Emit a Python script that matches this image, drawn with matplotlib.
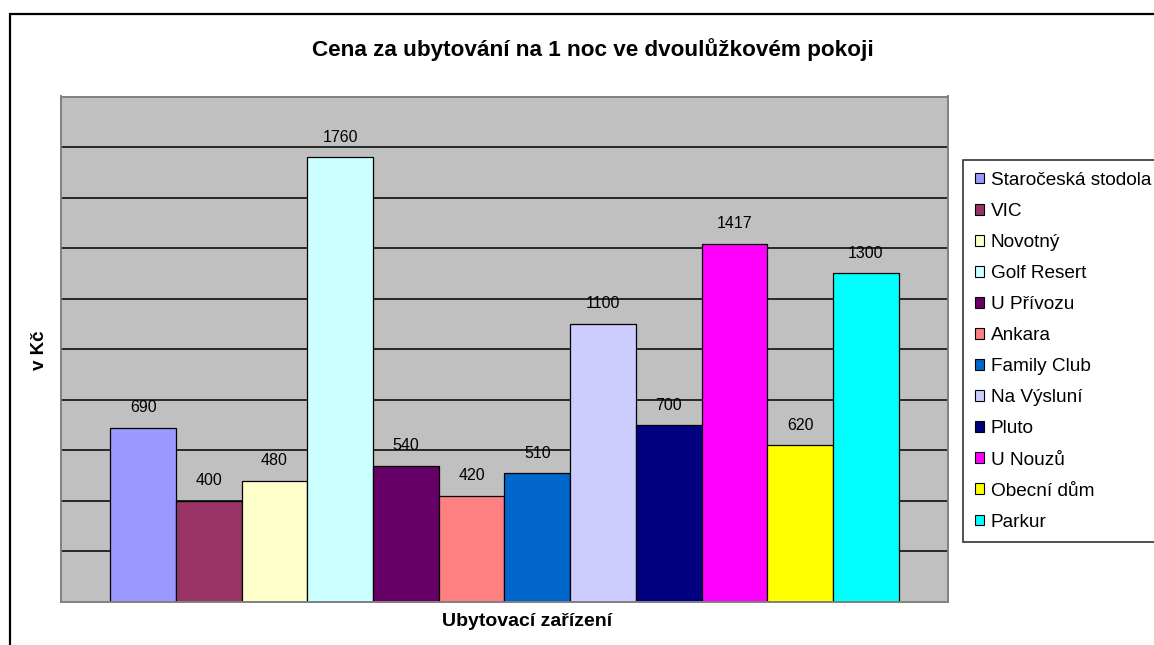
import matplotlib
matplotlib.use("Agg")
import matplotlib.pyplot as plt
from matplotlib.patches import Rectangle, Patch

plt.rcParams["font.family"] = ["Liberation Sans", "DejaVu Sans"]

names = ["Staročeská stodola", "VIC", "Novotný", "Golf Resert", "U Přívozu",
         "Ankara", "Family Club", "Na Výsluní", "Pluto", "U Nouzů",
         "Obecní dům", "Parkur"]
prices = [690, 400, 480, 1760, 540, 420, 510, 1100, 700, 1417, 620, 1300]
colors = ["#9999FF", "#993366", "#FFFFCC", "#CCFFFF", "#660066", "#FF8080",
          "#0066CC", "#CCCCFF", "#000080", "#FF00FF", "#FFFF00", "#00FFFF"]

W, H = 1154, 645
fig = plt.figure(figsize=(W / 100, H / 100), dpi=100)

# outer chart border (runs off the right/bottom edge)
fig.patches.append(Rectangle((10 / W, -0.05), 1.1, 1 - 14 / H + 0.05,
                             transform=fig.transFigure, fill=False,
                             edgecolor="black", linewidth=1.6))

ax = fig.add_axes([61 / W, 1 - 602 / H, 887 / W, (602 - 96.5) / H])
ax.set_facecolor("#C0C0C0")
ax.set_ylim(0, 2000)
ax.set_xlim(-1.25, len(prices) + 0.25)
ax.set_yticks(range(200, 2000, 200))
ax.yaxis.grid(True, color="black", linewidth=1.1)
ax.set_axisbelow(True)
ax.tick_params(left=False, bottom=False, labelleft=False, labelbottom=False)
for s in ax.spines.values():
    s.set_color("#808080")
    s.set_linewidth(1.4)

x = range(len(prices))
ax.bar(x, prices, width=1.0, color=colors, edgecolor="black", linewidth=0.9)
for xi, v in zip(x, prices):
    ax.annotate(str(v), (xi, v), xytext=(0, 9), textcoords="offset points",
                ha="center", va="bottom", fontsize=11.5)

fig.text(593 / W, 1 - 50 / H, "Cena za ubytování na 1 noc ve dvoulůžkovém pokoji",
         ha="center", va="center", fontsize=16.2, fontweight="bold")
fig.text(40 / W, 1 - 350 / H, "v Kč", rotation=90, ha="center", va="center",
         fontsize=13.5, fontweight="bold")
fig.text(527 / W, 1 - 621 / H, "Ubytovací zařízení", ha="center", va="center",
         fontsize=14, fontweight="bold")

handles = [Patch(facecolor=c, edgecolor="black", linewidth=0.8) for c in colors]
leg = fig.legend(handles, names, loc="upper left",
                 bbox_to_anchor=(963 / W, 1 - 160 / H), fontsize=13.7,
                 frameon=True, fancybox=False, edgecolor="black",
                 handlelength=0.5, handleheight=0.5, handletextpad=0.35,
                 labelspacing=0.74, borderpad=0.62, borderaxespad=0)
leg.get_frame().set_linewidth(1.2)

fig.savefig("out.png", dpi=100)
